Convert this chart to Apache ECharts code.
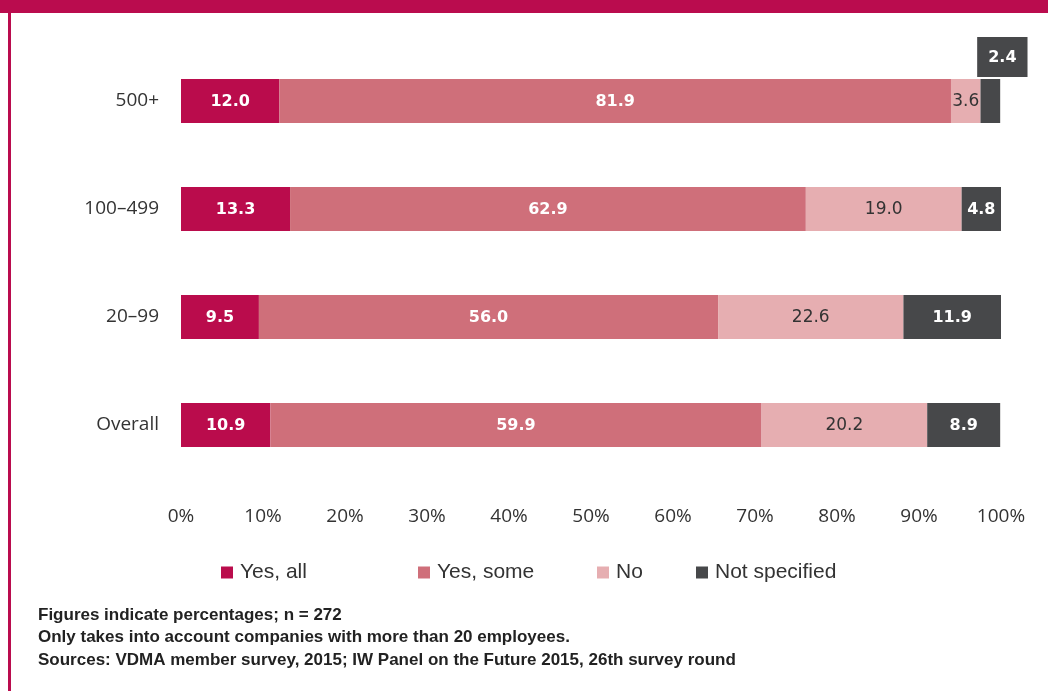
<!DOCTYPE html>
<html>
<head>
<meta charset="utf-8">
<script src="https://cdn.jsdelivr.net/npm/echarts@6/dist/echarts.min.js"></script>
<style>
  html, body { margin: 0; padding: 0; background: #ffffff; }
  #chart { width: 1048px; height: 691px; }
</style>
</head>
<body>
<div id="chart"></div>
<script>
// Company size groups (top to bottom)
var categories = ['500+', '100–499', '20–99', 'Overall'];

// Shares in percent per answer
var yesAll       = [12.0, 13.3, 9.5, 10.9];
var yesSome      = [81.9, 62.9, 56.0, 59.9];
var no           = [3.6, 19.0, 22.6, 20.2];
var notSpecified = [2.4, 4.8, 11.9, 8.9];

var seriesNames = ['Yes, all', 'Yes, some', 'No', 'Not specified'];
var xTicks = [0, 10, 20, 30, 40, 50, 60, 70, 80, 90, 100];

var colors = ['#ba0c4c', '#cf6f7a', '#e6aeb1', '#47484a'];
var axisFont = '"Open Sans", "Noto Sans", sans-serif';
var labelFont = 'DejaVu Sans';
var noteFont = '"Liberation Sans Narrow", "Liberation Sans", Arial, sans-serif';

function fmt(v) { return v.toFixed(1); }

function makeSeries(name, values, color, textColor, bold) {
  return {
    name: name,
    type: 'bar',
    stack: 'total',
    barWidth: 44,
    itemStyle: { color: color },
    emphasis: { disabled: true },
    label: {
      show: true,
      position: 'inside',
      offset: [0, 1],
      color: textColor,
      fontFamily: labelFont,
      fontSize: bold ? 16 : 17,
      fontWeight: bold ? 'bold' : 'normal',
      formatter: function (p) { return fmt(p.value); }
    },
    data: values.slice()
  };
}

var sNotSpec = makeSeries(seriesNames[3], notSpecified, colors[3], '#ffffff', true);
// The thin 500+ segment carries its label in a box above the bar
sNotSpec.data = notSpecified.map(function (v, i) {
  if (i !== 0) return v;
  return {
    value: v,
    label: {
      position: 'top',
      distance: 2,
      offset: [12, 0],
      backgroundColor: colors[3],
      padding: [11, 11, 9, 11],
      lineHeight: 20
    }
  };
});

var legendLefts = [221, 418, 597, 696];

var option = {
  animation: false,
  backgroundColor: '#ffffff',
  grid: { left: 181, right: 47, top: 47, bottom: 212, containLabel: false },
  xAxis: {
    type: 'value',
    min: 0,
    max: 100,
    interval: 10,
    axisLine: { show: false },
    axisTick: { show: false },
    splitLine: { show: false },
    axisLabel: {
      margin: 28,
      color: '#333333',
      fontFamily: axisFont,
      fontSize: 19,
      customValues: xTicks,
      formatter: function (v) { return v + '%'; }
    }
  },
  yAxis: {
    type: 'category',
    data: categories,
    inverse: true,
    axisLine: { show: false },
    axisTick: { show: false },
    splitLine: { show: false },
    axisLabel: {
      margin: 22,
      color: '#333333',
      fontFamily: axisFont,
      fontSize: 19
    }
  },
  legend: seriesNames.map(function (n, i) {
    return {
      data: [n],
      left: legendLefts[i],
      top: 562,
      padding: 0,
      icon: 'rect',
      itemWidth: 12,
      itemHeight: 12,
      itemGap: 0,
      selectedMode: false,
      textStyle: { color: '#333333', fontFamily: noteFont, fontSize: 21, padding: [0, 0, 0, 2] }
    };
  }),
  series: [
    makeSeries(seriesNames[0], yesAll, colors[0], '#ffffff', true),
    makeSeries(seriesNames[1], yesSome, colors[1], '#ffffff', true),
    makeSeries(seriesNames[2], no, colors[2], '#333333', false),
    sNotSpec
  ],
  graphic: [
    { type: 'rect', shape: { x: 0, y: 0, width: 1048, height: 13 }, style: { fill: '#ba0c4e' }, silent: true },
    { type: 'rect', shape: { x: 8, y: 0, width: 3, height: 691 }, style: { fill: '#ba0c4e' }, silent: true },
    { type: 'text', left: 38, top: 607, style: { text: 'Figures indicate percentages; n = 272', fill: '#222222', font: 'bold 17px ' + noteFont } },
    { type: 'text', left: 38, top: 629, style: { text: 'Only takes into account companies with more than 20 employees.', fill: '#222222', font: 'bold 17px ' + noteFont } },
    { type: 'text', left: 38, top: 652, style: { text: 'Sources: VDMA member survey, 2015; IW Panel on the Future 2015, 26th survey round', fill: '#222222', font: 'bold 17px ' + noteFont } }
  ]
};

var chart = echarts.init(document.getElementById('chart'), null, { renderer: 'canvas' });
chart.setOption(option);
</script>
</body>
</html>
